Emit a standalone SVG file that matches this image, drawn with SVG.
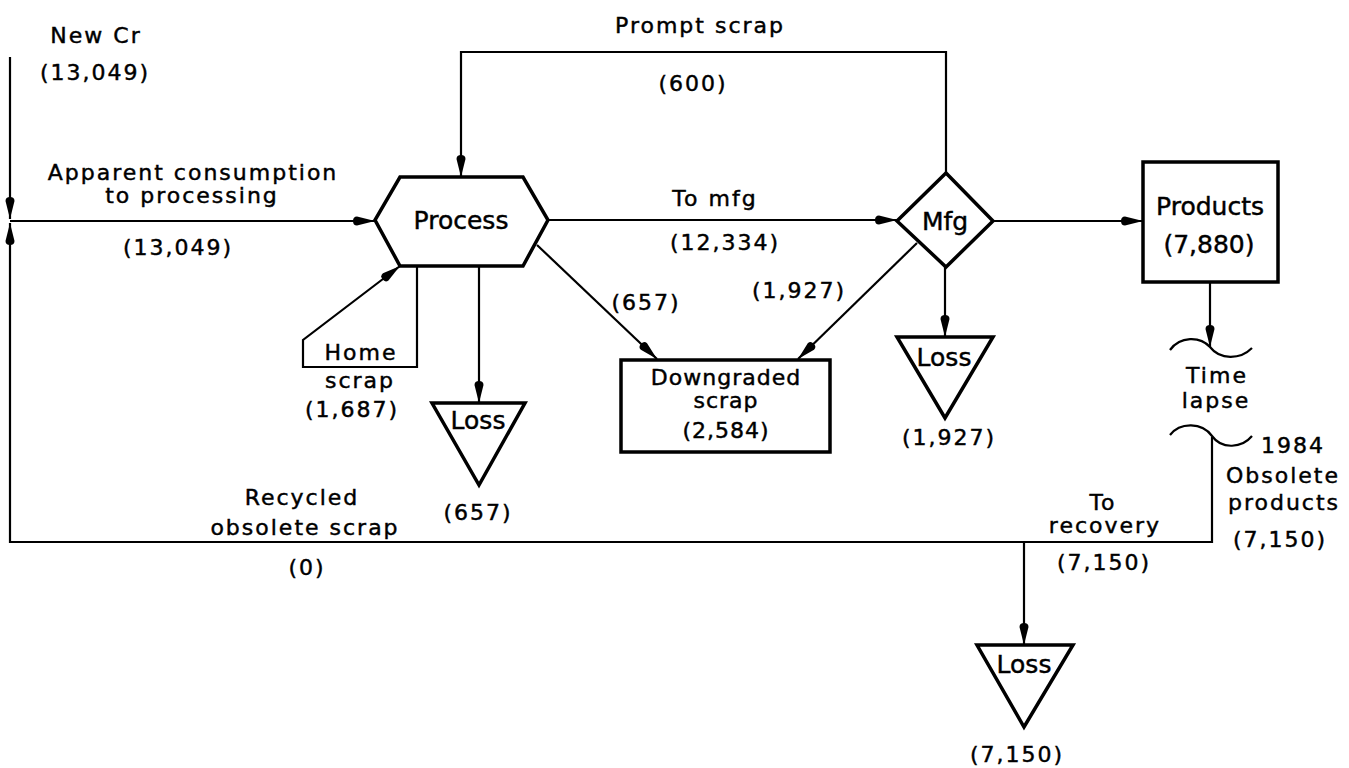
<svg xmlns="http://www.w3.org/2000/svg" width="1349" height="768" viewBox="0 0 1349 768">
<style>
  text { font-family: "DejaVu Sans", "Liberation Sans", sans-serif; fill: #000; stroke: #000; stroke-width: 0.45; text-anchor: middle; }
  .lg { font-size: 25px; }
  .sm { font-size: 22px; letter-spacing: 2px; }
  .tight { letter-spacing: 1px; }
  .node { fill: #fff; stroke: #000; stroke-width: 3.5; stroke-linejoin: miter; }
  .con { fill: none; stroke: #000; stroke-width: 2.2; }
  .arr { marker-end: url(#ah); }
</style>
<defs>
  <marker id="ah" viewBox="0 0 22 10" refX="22" refY="5" markerWidth="22" markerHeight="10" markerUnits="userSpaceOnUse" orient="auto">
    <path d="M0,5 Q0,0.5 4,0.5 L22,5 L4,9.5 Q0,9.5 0,5 Z" fill="#000"/>
  </marker>
</defs>
<rect width="1349" height="768" fill="#fff"/>

<g id="connectors">
  <path class="con arr" d="M10,57 V219"/>
  <path class="con arr" d="M1212,437 V542 H10 V223"/>
  <path class="con arr" d="M10,221 H375"/>
  <path class="con arr" d="M946,173 V52 H461 V177"/>
  <path class="con arr" d="M548,220 H897"/>
  <path class="con arr" d="M993,221 H1143"/>
  <path class="con arr" d="M537,245 L657,359"/>
  <path class="con arr" d="M917,243 L798,359"/>
  <path class="con arr" d="M479,266 V403"/>
  <path class="con arr" d="M417,266 V367 H303 V340 L400,266"/>
  <path class="con arr" d="M945,267 V337"/>
  <path class="con arr" d="M1210,282 V347"/>
  <path class="con arr" d="M1024,542 V645"/>
  <path class="con" d="M1170,350 C1180,336 1200,336 1210,347 C1220,360 1240,360 1252,348"/>
  <path class="con" d="M1170,435 C1180,422 1202,422 1212,436 C1222,450 1242,448 1252,436"/>
</g>

<g id="labels">
  <text class="sm" x="96" y="43">New Cr</text>
  <text class="sm" x="95" y="80">(13,049)</text>
  <text class="sm" x="193" y="180">Apparent consumption</text>
  <text class="sm" x="192" y="203">to processing</text>
  <text class="sm" x="178" y="255">(13,049)</text>
  <text class="sm" x="700" y="33">Prompt scrap</text>
  <text class="sm" x="693" y="91">(600)</text>
  <text class="sm" x="715" y="206">To mfg</text>
  <text class="sm" x="725" y="250">(12,334)</text>
  <text class="sm" x="646" y="310">(657)</text>
  <text class="sm" x="799" y="298">(1,927)</text>
  <text class="sm" x="361" y="360">Home</text>
  <text class="sm" x="360" y="388">scrap</text>
  <text class="sm" x="352" y="417">(1,687)</text>
  <text class="sm" x="478" y="520">(657)</text>
  <text class="sm" x="949" y="445">(1,927)</text>
  <text class="sm" x="1217" y="383">Time</text>
  <text class="sm" x="1216" y="408">lapse</text>
  <text class="sm" x="1293" y="453">1984</text>
  <text class="sm" x="1283" y="483">Obsolete</text>
  <text class="sm" x="1284" y="510">products</text>
  <text class="sm" x="1280" y="547">(7,150)</text>
  <text class="sm" x="1103" y="510">To</text>
  <text class="sm" x="1105" y="533">recovery</text>
  <text class="sm" x="1104" y="570">(7,150)</text>
  <text class="sm" x="302" y="505">Recycled</text>
  <text class="sm" x="305" y="535">obsolete scrap</text>
  <text class="sm" x="307" y="575">(0)</text>
  <text class="sm" x="1017" y="762">(7,150)</text>
</g>

<g id="process">
  <polygon class="node" points="400,177 523,177 548,220 523,266 400,266 375,220"/>
  <text class="lg" x="461" y="229">Process</text>
</g>
<g id="mfg">
  <polygon class="node" points="946,173 993,221 946,267 897,221"/>
  <text class="lg" x="945" y="230">Mfg</text>
</g>
<g id="products">
  <rect class="node" x="1143" y="162" width="135" height="120"/>
  <text class="lg" x="1210" y="215">Products</text>
  <text class="lg" x="1209" y="253">(7,880)</text>
</g>
<g id="downgraded">
  <rect class="node" x="621" y="360" width="209" height="92"/>
  <text class="sm tight" x="726" y="385">Downgraded</text>
  <text class="sm tight" x="726" y="408">scrap</text>
  <text class="sm tight" x="726" y="438">(2,584)</text>
</g>
<g id="loss-process">
  <polygon class="node" points="432,403 525,403 479,485"/>
  <text class="lg" x="478" y="429">Loss</text>
</g>
<g id="loss-mfg">
  <polygon class="node" points="897,337 993,337 945,418"/>
  <text class="lg" x="944" y="366">Loss</text>
</g>
<g id="loss-recovery">
  <polygon class="node" points="977,645 1073,645 1024,727"/>
  <text class="lg" x="1024" y="673">Loss</text>
</g>
</svg>
